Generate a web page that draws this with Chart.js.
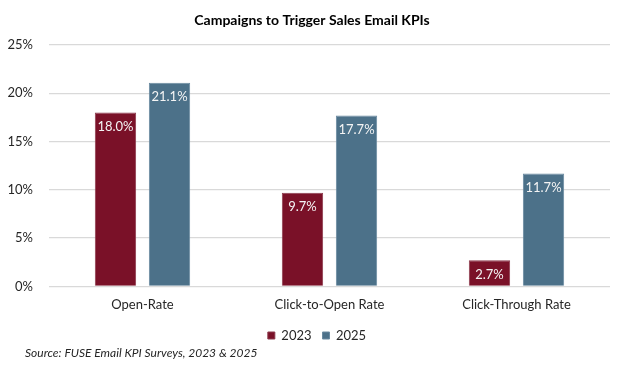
<!DOCTYPE html>
<html lang="en">
<head>
  <meta charset="UTF-8">
  <title>Campaigns to Trigger Sales Email KPIs</title>
  <style>
    body {
      margin: 0;
      background-color: #ffffff;
    }
  </style>
  <script src="https://cdn.jsdelivr.net/npm/chart.js"></script>
</head>
<body>
  <canvas id="kpiChart" width="624" height="373"></canvas>
  <script>
    // data
    var categories = ['Open-Rate', 'Click-to-Open Rate', 'Click-Through Rate'];
    var seriesNames = ['2023', '2025'];
    var values2023 = [18.0, 9.7, 2.7];
    var values2025 = [21.1, 17.7, 11.7];
    var yTicks = [0, 5, 10, 15, 20, 25];

    var titleText = 'Campaigns to Trigger Sales Email KPIs';
    var sourceText = 'Source: FUSE Email KPI Surveys, 2023 & 2025';

    var fontFamily = 'Lato, "Open Sans", sans-serif';

    // title, source line and the value labels inside the bars
    var textPlugin = {
      id: 'textPlugin',
      afterLayout: function (chart) {
        // legend sits a little right of the canvas centre in the original
        chart.legend.left += 12;
        chart.legend.right += 12;
      },
      afterDatasetsDraw: function (chart) {
        var ctx = chart.ctx;
        ctx.save();
        ctx.fillStyle = '#f4f4f4';
        ctx.font = '13px ' + fontFamily;
        ctx.textAlign = 'center';
        ctx.textBaseline = 'middle';
        chart.data.datasets.forEach(function (ds, i) {
          var meta = chart.getDatasetMeta(i);
          meta.data.forEach(function (bar, j) {
            ctx.fillText(ds.data[j].toFixed(1) + '%', bar.x, bar.y + 14);
          });
        });
        ctx.restore();
      },
      afterDraw: function (chart) {
        var ctx = chart.ctx;
        ctx.save();
        ctx.fillStyle = '#000000';
        ctx.font = 'bold 14px ' + fontFamily;
        ctx.textAlign = 'center';
        ctx.textBaseline = 'middle';
        ctx.fillText(titleText, 312, 20);
        ctx.fillStyle = '#262626';
        ctx.font = 'italic 12px ' + fontFamily;
        ctx.textAlign = 'left';
        ctx.fillText(sourceText, 25, 353);
        ctx.restore();
      }
    };

    var ctx = document.getElementById('kpiChart').getContext('2d');
    var kpiChart = new Chart(ctx, {
      type: 'bar',
      data: {
        labels: categories,
        datasets: [
          {
            label: seriesNames[0],
            data: values2023,
            backgroundColor: '#7a1128',
            borderColor: '#8c3a4c',
            borderWidth: 1
          },
          {
            label: seriesNames[1],
            data: values2025,
            backgroundColor: '#4c7189',
            borderColor: '#6a8aa0',
            borderWidth: 1
          }
        ]
      },
      options: {
        responsive: false,
        animation: false,
        categoryPercentage: 0.578,
        barPercentage: 0.765,
        layout: {
          padding: { top: 45, right: 14, bottom: 21, left: 0 }
        },
        scales: {
          x: {
            grid: { display: false, drawTicks: false },
            border: { display: false },
            ticks: {
              color: '#262626',
              font: { family: fontFamily, size: 13 },
              padding: 11
            },
            afterFit: function (scale) { scale.height = 31.6; }
          },
          y: {
            min: 0,
            max: 25,
            afterBuildTicks: function (scale) {
              scale.ticks = yTicks.map(function (v) { return { value: v }; });
            },
            grid: { color: '#d9d9d9', lineWidth: 1.3, drawTicks: false },
            border: { display: false },
            ticks: {
              color: '#262626',
              font: { family: fontFamily, size: 13 },
              padding: 16,
              callback: function (v) { return v + '%'; }
            },
            afterFit: function (scale) { scale.width = 49; }
          }
        },
        plugins: {
          title: { display: false },
          tooltip: { enabled: false },
          legend: {
            position: 'bottom',
            labels: {
              color: '#262626',
              font: { family: fontFamily, size: 13 },
              boxWidth: 7,
              boxHeight: 7,
              padding: 11
            }
          }
        }
      },
      plugins: [textPlugin]
    });
  </script>
</body>
</html>
